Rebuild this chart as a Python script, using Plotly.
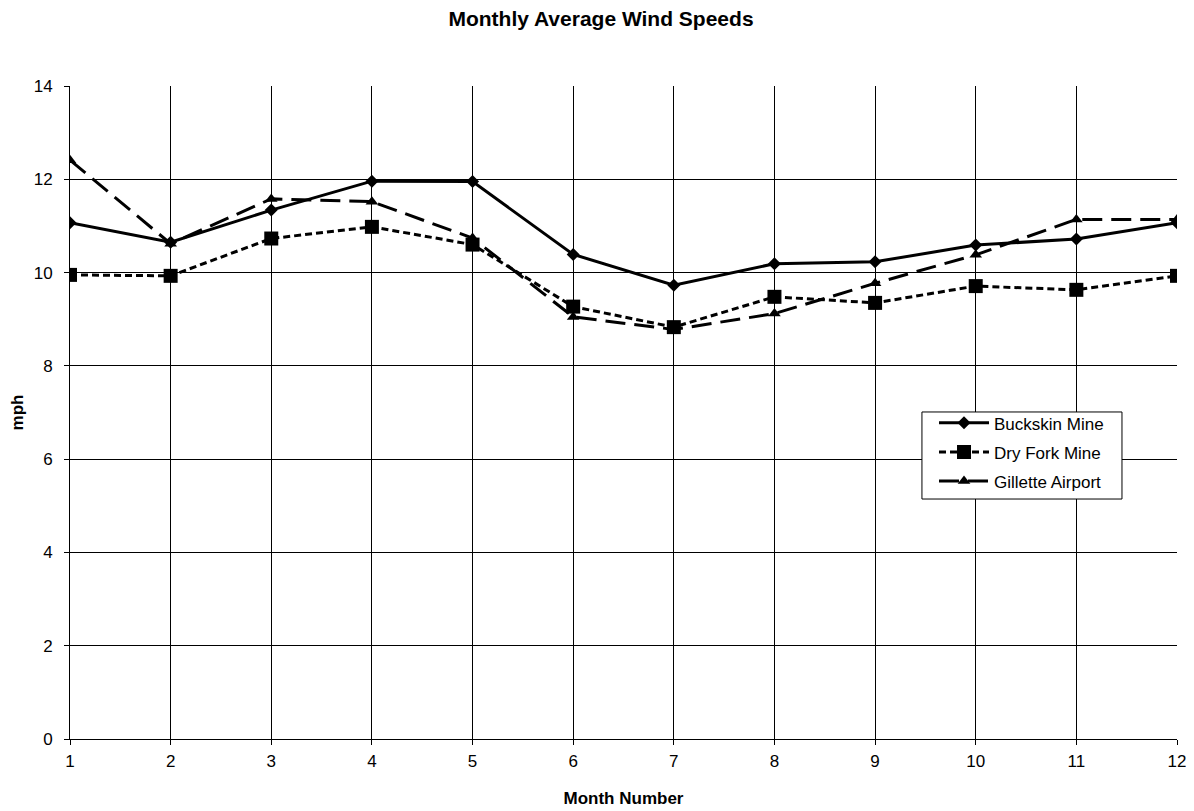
import plotly.graph_objects as go

months = list(range(1, 13))
buckskin = [11.07, 10.65, 11.34, 11.96, 11.95, 10.39, 9.73, 10.19, 10.23, 10.59, 10.72, 11.07]
dry_fork = [9.95, 9.93, 10.73, 10.98, 10.60, 9.27, 8.83, 9.48, 9.35, 9.71, 9.63, 9.93]
gillette = [12.41, 10.62, 11.58, 11.52, 10.74, 9.05, 8.78, 9.12, 9.77, 10.38, 11.14, 11.14]
y_ticks = [0, 2, 4, 6, 8, 10, 12, 14]

FONT = "Liberation Sans, Arial, sans-serif"

fig = go.Figure()
fig.add_trace(go.Scatter(x=months, y=buckskin, name="Buckskin Mine", mode="lines+markers",
                         legendgroup="a",
                         line=dict(color="black", width=3),
                         marker=dict(symbol="diamond", size=10, color="black")))
fig.add_trace(go.Scatter(x=months, y=dry_fork, name="Dry Fork Mine", mode="lines+markers",
                         legendgroup="b",
                         line=dict(color="black", width=3, dash="7px,4px"),
                         marker=dict(symbol="square", size=14, color="black")))
fig.add_trace(go.Scatter(x=months, y=gillette, name="Gillette Airport", mode="lines+markers",
                         legendgroup="c",
                         line=dict(color="black", width=3, dash="20px,9px"),
                         marker=dict(symbol="triangle-up", size=11, color="black")))

# legend frame (white box with black border)
fig.add_shape(type="rect", xref="paper", yref="paper",
              x0=0.7696, x1=0.9503, y0=0.3675, y1=0.5008,
              line=dict(color="black", width=1), fillcolor="white", layer="above")

fig.update_layout(
    width=1186, height=803,
    margin=dict(l=62, r=17, t=78, b=72),
    paper_bgcolor="white", plot_bgcolor="white",
    font=dict(family=FONT, size=17, color="black"),
    title=dict(text="<b>Monthly Average Wind Speeds</b>", x=0.5, xanchor="center",
               y=1 - 11 / 803, yanchor="middle", font=dict(size=21, family=FONT)),
    showlegend=True,
    legend=dict(x=0.7805, y=0.511, xanchor="left", yanchor="top",
                borderwidth=0, bgcolor="rgba(0,0,0,0)",
                font=dict(size=17, family=FONT), tracegroupgap=4, itemwidth=50),
    xaxis=dict(range=[1, 12], tickvals=months, showgrid=True, gridcolor="black", gridwidth=1,
               showline=True, linecolor="black", linewidth=1, ticks="outside", ticklen=5,
               tickcolor="black", zeroline=False, ticklabelstandoff=2, automargin=False,
               ticklabeloverflow="allow",
               title=dict(text="<b>Month Number</b>", font=dict(size=17, family=FONT), standoff=21)),
    yaxis=dict(range=[0, 14], tickvals=y_ticks, showgrid=True, gridcolor="black", gridwidth=1,
               showline=True, linecolor="black", linewidth=1, ticks="outside", ticklen=5,
               tickcolor="black", zeroline=False, ticklabelstandoff=8, automargin=False,
               ticklabeloverflow="allow",
               title=dict(text="<b>mph</b>", font=dict(size=17, family=FONT), standoff=7)),
)

fig.write_html("out.html")
